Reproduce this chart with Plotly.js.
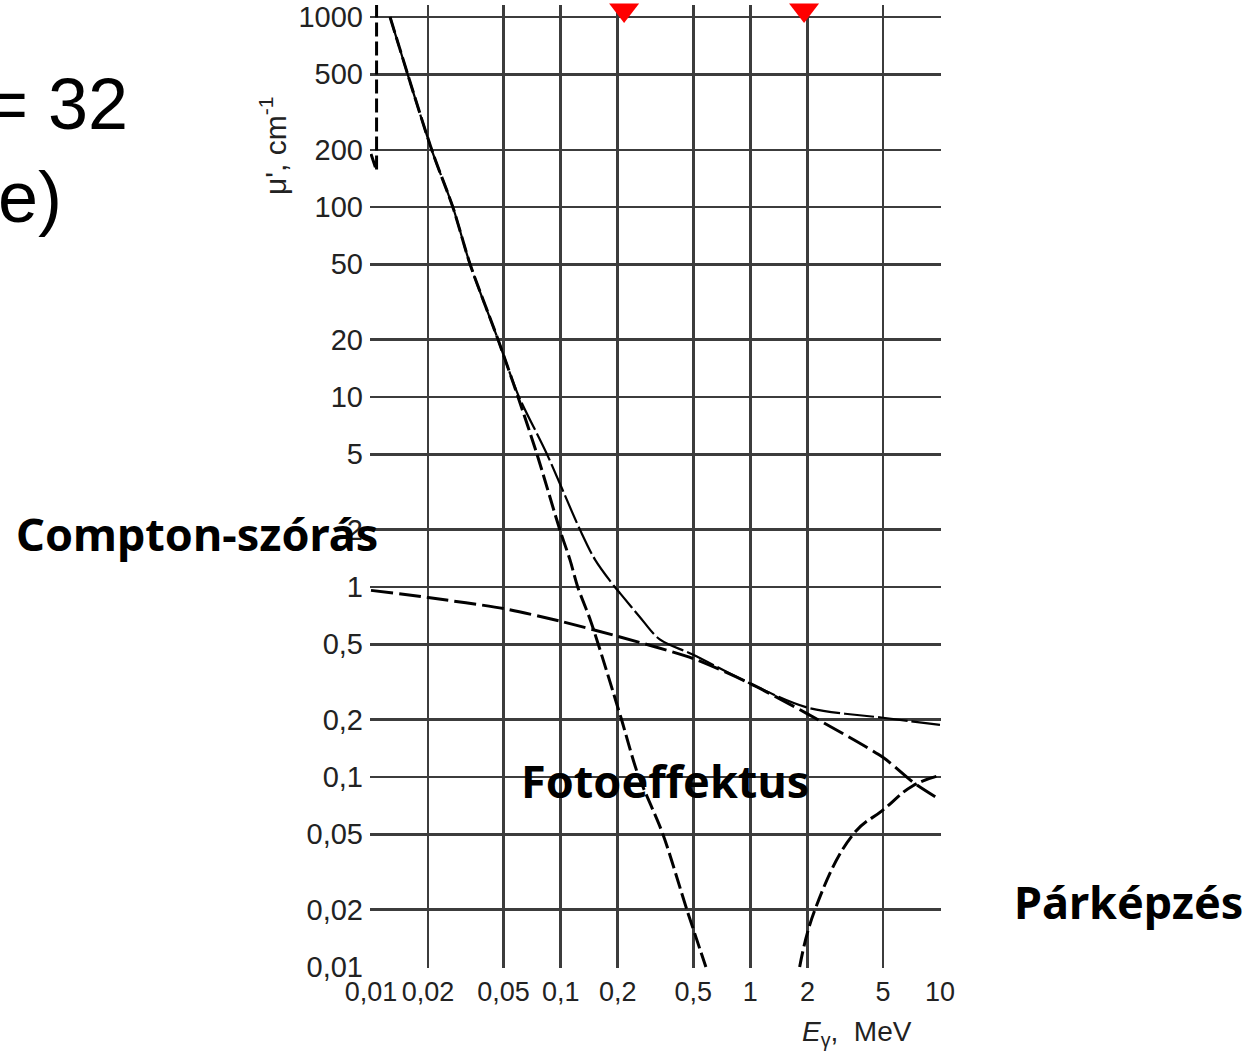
<!DOCTYPE html>
<html><head><meta charset="utf-8">
<script src="https://cdn.plot.ly/plotly-3.0.1.min.js"></script>
<style>html,body{margin:0;padding:0;background:#fff;overflow:hidden}#chart{width:1249px;height:1053px}</style>
</head><body><div id="chart"></div>
<script>
// ---- data (E in MeV, mu in 1/cm) ----
const xTickVals = [0.01, 0.02, 0.05, 0.1, 0.2, 0.5, 1, 2, 5, 10];
const xTickText = ['0,01', '0,02', '0,05', '0,1', '0,2', '0,5', '1', '2', '5', '10'];
const yTickVals = [0.01, 0.02, 0.05, 0.1, 0.2, 0.5, 1, 2, 5, 10, 20, 50, 100, 200, 500, 1000];
const yTickText = ['0,01', '0,02', '0,05', '0,1', '0,2', '0,5', '1', '2', '5', '10', '20', '50', '100', '200', '500', '1000'];

const photoEdgeE  = [0.0100, 0.0107, 0.0107];
const photoEdgeMu = [190, 155, 1400];
const photoE  = [0.0126, 0.0209, 0.027, 0.0333, 0.0468, 0.0596, 0.075, 0.099, 0.112, 0.123, 0.1445, 0.208, 0.254, 0.346, 0.463, 0.583];
const photoMu = [1000, 200, 100, 50, 20, 10, 5, 2, 1.39, 1, 0.655, 0.205, 0.105, 0.05, 0.02, 0.01];

const totalE  = [0.0126, 0.0209, 0.027, 0.0333, 0.0468, 0.0596, 0.0847, 0.1265, 0.152, 0.193, 0.207, 0.26, 0.333, 0.5, 1, 2, 5, 10];
const totalMu = [1000, 200, 100, 50, 20, 10.3, 5, 2, 1.39, 1, 0.92, 0.70, 0.53, 0.44, 0.31, 0.232, 0.205, 0.188];

const comptonE  = [0.01, 0.02, 0.05, 0.1, 0.2, 0.5, 1, 2, 5, 7.2, 10];
const comptonMu = [0.96, 0.88, 0.77, 0.66, 0.55, 0.42, 0.31, 0.215, 0.127, 0.094, 0.076];

const pairE  = [1.82, 2.19, 3.49, 5, 7.2, 10];
const pairMu = [0.01, 0.02, 0.05, 0.067, 0.09, 0.102];

const markerE  = [0.216, 1.92];
const markerMu = [1088, 1088];

const labels = ['Compton-szórás', 'Fotoeffektus', 'Párképzés'];

// ---- layout helpers (pixel -> paper) ----
const W = 1249, H = 1053;
const L = 370, R = 941, T = 5, B = 968;          // plot area in pixels
const PXDEC_X = 189.7, PXDEC_Y = 190;            // pixels per decade
const xRange = [-2 - 1 / PXDEC_X, 1 + 1 / PXDEC_X];
const yRange = [-2 - 1 / PXDEC_Y, 3 + 12 / PXDEC_Y];
const fx = px => (px - L) / (R - L);
const fy = py => (B - py) / (B - T);

const sans = "'Liberation Sans', Arial, sans-serif";
const bold = "'Noto Sans', 'DejaVu Sans', sans-serif";
const black = '#000';

const traces = [
  {x: photoEdgeE, y: photoEdgeMu, mode: 'lines', line: {color: black, width: 3, dash: '14px,5px'}, hoverinfo: 'skip'},
  {x: photoE, y: photoMu, mode: 'lines', line: {color: black, width: 3, dash: '16px,5px', shape: 'spline', smoothing: 0.8}, hoverinfo: 'skip'},
  {x: totalE, y: totalMu, mode: 'lines', line: {color: black, width: 2.2, dash: '30px,4px', shape: 'spline', smoothing: 0.9}, hoverinfo: 'skip'},
  {x: comptonE, y: comptonMu, mode: 'lines', line: {color: black, width: 3, dash: '22px,6px', shape: 'spline', smoothing: 0.7}, hoverinfo: 'skip'},
  {x: pairE, y: pairMu, mode: 'lines', line: {color: black, width: 3, dash: '16px,5px', shape: 'spline', smoothing: 1.2}, hoverinfo: 'skip'},
  {x: markerE, y: markerMu, mode: 'markers', cliponaxis: false,
   marker: {symbol: 'triangle-down', size: 26, color: '#ff0000', line: {width: 0}}, hoverinfo: 'skip'}
];

const gridCol = '#3c3c3c';
const layout = {
  width: W, height: H,
  margin: {l: L, r: W - R, t: T, b: H - B, pad: 0},
  paper_bgcolor: '#fff', plot_bgcolor: '#fff',
  showlegend: false,
  xaxis: {
    type: 'log', range: xRange, tickvals: xTickVals, ticktext: xTickText, tickangle: 0,
    showgrid: true, gridcolor: gridCol, gridwidth: 2.6,
    showline: false, ticks: '', ticklabelstandoff: 5, zeroline: false,
    tickfont: {family: sans, size: 27, color: '#222'}
  },
  yaxis: {
    type: 'log', range: yRange, tickvals: yTickVals, ticktext: yTickText,
    showgrid: true, gridcolor: gridCol, gridwidth: 2.6,
    showline: false, ticks: '', ticklabelstandoff: 6, zeroline: false,
    tickfont: {family: sans, size: 29, color: '#222'}
  },
  shapes: [
    // white mask above the top border so the vertical grid stops at the 1000 line
    {type: 'rect', xref: 'paper', yref: 'paper', x0: -0.01, x1: 1.01, y0: fy(15.6), y1: 1.01,
     fillcolor: '#fff', line: {width: 0}, layer: 'between'}
  ],
  annotations: [
    {xref: 'paper', yref: 'paper', x: fx(197), y: fy(533), text: '<b>' + labels[0] + '</b>', showarrow: false,
     xanchor: 'center', yanchor: 'middle', font: {family: bold, size: 45, color: black}},
    {xref: 'paper', yref: 'paper', x: fx(665), y: fy(780), text: '<b>' + labels[1] + '</b>', showarrow: false,
     xanchor: 'center', yanchor: 'middle', font: {family: bold, size: 45, color: black}},
    {xref: 'paper', yref: 'paper', x: fx(1128), y: fy(901), text: '<b>' + labels[2] + '</b>', showarrow: false,
     xanchor: 'center', yanchor: 'middle', font: {family: bold, size: 45, color: black}},
    {xref: 'paper', yref: 'paper', x: fx(130), y: fy(104), text: '= 32', showarrow: false,
     xanchor: 'right', yanchor: 'middle', font: {family: sans, size: 72, color: black}},
    {xref: 'paper', yref: 'paper', x: fx(-4), y: fy(197), text: 'e)', showarrow: false,
     xanchor: 'left', yanchor: 'middle', font: {family: sans, size: 72, color: black}},
    {xref: 'paper', yref: 'paper', x: fx(273), y: fy(146), text: "μ', cm<sup>-1</sup>", showarrow: false, textangle: -90,
     xanchor: 'center', yanchor: 'middle', font: {family: sans, size: 30, color: '#222'}},
    {xref: 'paper', yref: 'paper', x: fx(857), y: fy(1033), text: '<i>E</i><sub>γ</sub>,  MeV', showarrow: false,
     xanchor: 'center', yanchor: 'middle', font: {family: sans, size: 28, color: '#222'}}
  ]
};

Plotly.newPlot('chart', traces, layout, {displayModeBar: false, staticPlot: true});
</script>
</body></html>
